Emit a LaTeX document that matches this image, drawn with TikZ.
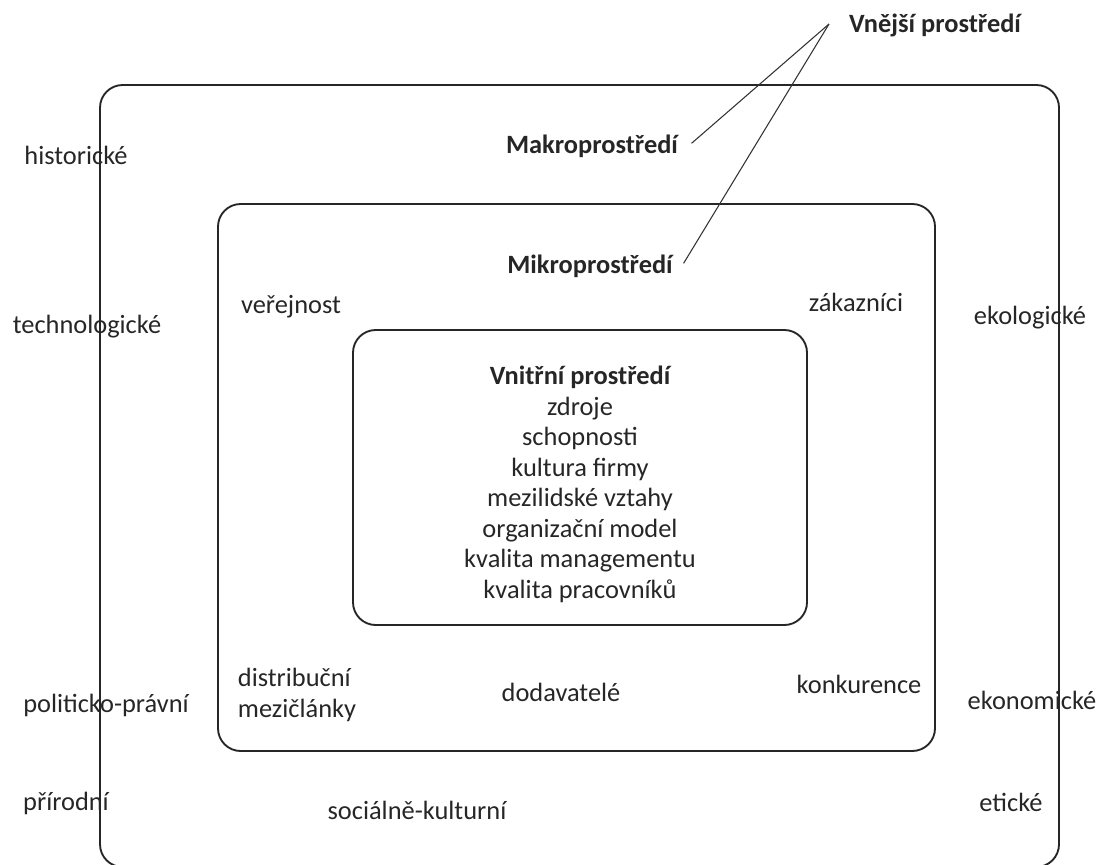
\documentclass[tikz,border=0pt]{standalone}
\usepackage{fontspec}
\setmainfont{Carlito}
\usetikzlibrary{positioning}

\tikzset{
  lbl/.style={inner sep=0pt, text=black!85, font=\fontsize{19.8}{22.9}\selectfont},
  head/.style={lbl, font=\fontsize{19.8}{22.9}\selectfont\bfseries},
  frame/.style={draw=black!85, line width=1.4pt, rounded corners=17pt},
  pointer/.style={draw=black!80, line width=0.8pt}
}

\begin{document}
\begin{tikzpicture}[x=0.75pt, y=-0.75pt]
  \useasboundingbox (0,0) rectangle (1106,864);

  % the three environments
  \draw[frame] (100,85) rectangle (1059,867);
  \draw[frame] (218,204) rectangle (935,751);
  \draw[frame] (353,330) rectangle (807,625);

  % titles
  \node[head] (vnejsi) at (935,25) {Vnější prostředí};
  \node[head] (makro) at (592,146) {Makroprostředí};
  \node[head] (mikro) at (590,266) {Mikroprostředí};
  \coordinate (tip) at (829,24);

  \draw[pointer] (tip) -- ([xshift=10pt,yshift=2pt]makro.east);
  \draw[pointer] (tip) -- ([xshift=8pt,yshift=2pt]mikro.east);

  % makro factors
  \node[lbl] (hist) at (76,155) {historické};
  \node[lbl] (tech) at (87,327) {technologické};
  \node[lbl] (polit) at (106,705) {politicko-právní};
  \node[lbl] (prir) at (66,803) {přírodní};
  \node[lbl] (ekol) at (1030,318) {ekologické};
  \node[lbl] (ekon) at (1032,700) {ekonomické};
  \node[lbl] (etic) at (1011,802) {etické};
  \node[lbl] (soc) at (417,810) {sociálně-kulturní};

  % mikro factors
  \node[lbl] (verej) at (291,307) {veřejnost};
  \node[lbl] (zakaz) at (856,302) {zákazníci};
  \node[lbl, align=left] (distr) at (297,695) {distribuční\\mezičlánky};
  \node[lbl] (dodav) at (561,692) {dodavatelé};
  \node[lbl] (konk) at (859,684) {konkurence};

  % vnitrni prostredi
  \node[head] (vnitr) at (580,377) {Vnitřní prostředí};
  \node[lbl, align=center, below=6pt of vnitr] (zdroje) {zdroje\\schopnosti\\kultura firmy\\mezilidské vztahy\\organizační model\\kvalita managementu\\kvalita pracovníků};

\end{tikzpicture}
\end{document}
